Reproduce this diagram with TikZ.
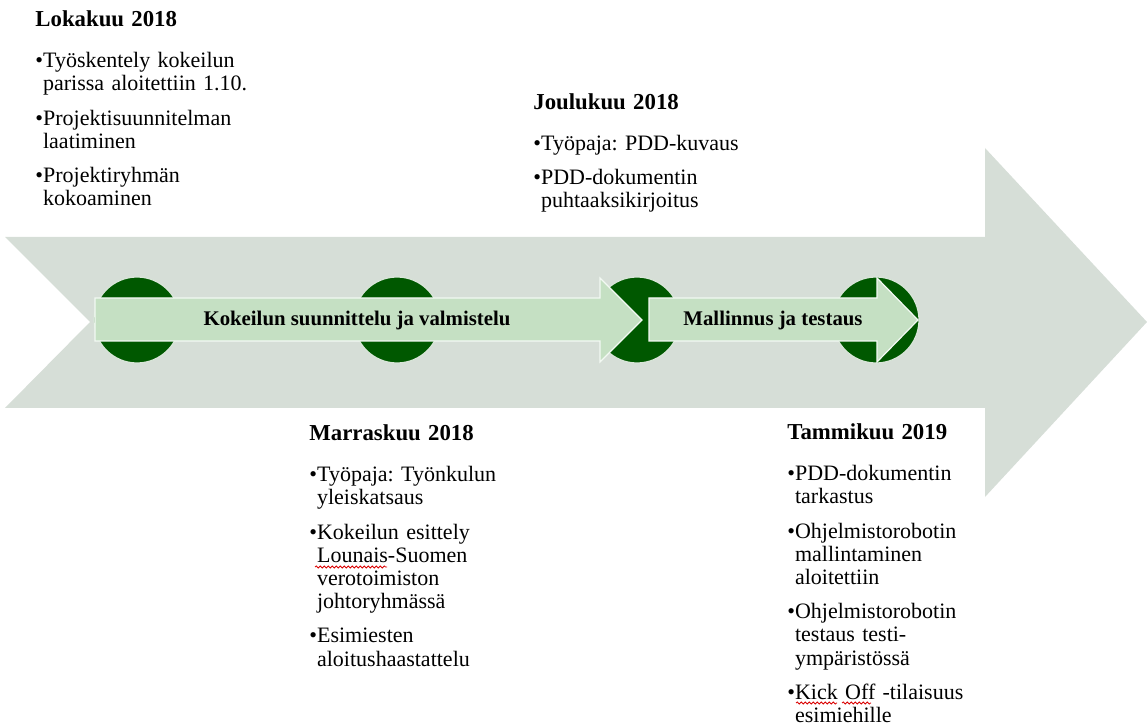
\documentclass[tikz,border=0pt]{standalone}
\usepackage{fontspec}
\setmainfont{Liberation Serif}
\usetikzlibrary{positioning, decorations.pathmorphing}

\definecolor{bandgrey}{RGB}{214,222,215}
\definecolor{darkleaf}{RGB}{0,88,0}
\definecolor{paleleaf}{RGB}{197,224,195}

\newcommand{\monthhead}[1]{{\fontsize{11.4}{11.65}\selectfont\bfseries #1\par}\vspace{8.85pt}}
\newcommand{\entry}[1]{\hangindent=0.35em\hangafter=1\noindent•#1\par\vspace{5.5pt}}

\tikzset{
  monthtext/.style={anchor=north west, inner sep=0pt, text width=6cm, font=\fontsize{11}{11.6}\selectfont\frenchspacing},
  milestone/.style={circle, fill=darkleaf, draw=white!85!darkleaf, line width=0.6pt, minimum size=43pt, inner sep=0pt},
  stage/.style={fill=paleleaf, draw=white!80!paleleaf, line width=0.6pt},
  stagelabel/.style={font=\fontsize{10.4}{12}\selectfont\bfseries, inner sep=0pt},
  spellmark/.style={draw=red!85!black, line width=0.4pt, decorate, decoration={snake, amplitude=0.5pt, segment length=2pt}}
}

\begin{document}
\begin{tikzpicture}[x=0.5pt, y=-0.5pt]
    \useasboundingbox (0,0) rectangle (1147,727);

    % Background arrow
    \fill[bandgrey] (5,237) -- (985,237) -- (985,148) -- (1147,322) -- (985,497)
        -- (985,408) -- (5,408) -- (90,322) -- cycle;

    % Milestones
    \foreach \cx/\name in {137/m1, 397/m2, 637/m3, 876/m4}
        \node[milestone] (\name) at (\cx,320) {};

    % Stages
    \draw[stage] (95,298) -- (600,298) -- (600,278) -- (642,320) -- (600,362)
        -- (600,341) -- (95,341) -- cycle;
    \draw[stage] (649,298) -- (877,298) -- (877,278) -- (918,320) -- (877,362)
        -- (877,341) -- (649,341) -- cycle;
    \node[stagelabel] (prep) at (357,320) {Kokeilun suunnittelu ja valmistelu};
    \node[stagelabel] (model) at (773,320) {Mallinnus ja testaus};

    % Months
    \node[monthtext] (oct) at (35,10.5) {\monthhead{Lokakuu 2018}
        \entry{Työskentely kokeilun\newline parissa aloitettiin 1.10.}
        \entry{Projektisuunnitelman\newline laatiminen}
        \entry{Projektiryhmän\newline kokoaminen}};
    \node[monthtext] (dec) at (533,93) {\monthhead{Joulukuu 2018}
        \entry{Työpaja: PDD-kuvaus}
        \entry{PDD-dokumentin\newline puhtaaksikirjoitus}};
    \node[monthtext] (nov) at (309,424.5) {\monthhead{Marraskuu 2018}
        \entry{Työpaja: Työnkulun\newline yleiskatsaus}
        \entry{Kokeilun esittely\newline Lounais-Suomen\newline verotoimiston\newline johtoryhmässä}
        \entry{Esimiesten\newline aloitushaastattelu}};
    \node[monthtext] (jan) at (787,423.5) {\monthhead{Tammikuu 2019}
        \entry{PDD-dokumentin\newline tarkastus}
        \entry{Ohjelmistorobotin\newline mallintaminen\newline aloitettiin}
        \entry{Ohjelmistorobotin\newline testaus testi-\newline ympäristössä}
        \entry{Kick Off -tilaisuus\newline esimiehille}};

    % Spelling marks
    \coordinate (lounaisA) at (315,567);
    \coordinate (lounaisB) at (387,567);
    \coordinate (kickA) at (796,703);
    \coordinate (kickB) at (837,703);
    \coordinate (offA) at (842,703);
    \coordinate (offB) at (871,703);
    \draw[spellmark] (lounaisA) -- (lounaisB);
    \draw[spellmark] (kickA) -- (kickB);
    \draw[spellmark] (offA) -- (offB);
\end{tikzpicture}
\end{document}
